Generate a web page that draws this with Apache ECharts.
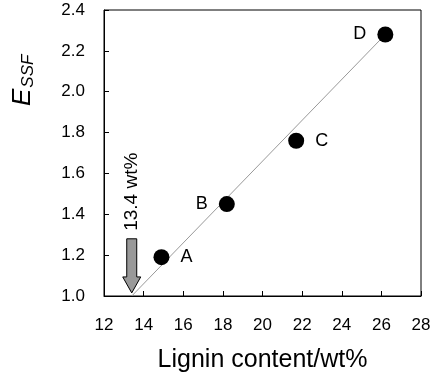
<!DOCTYPE html>
<html>
<head>
<meta charset="utf-8">
<script src="https://cdn.jsdelivr.net/npm/echarts@6/dist/echarts.min.js"></script>
<style>
html,body{margin:0;padding:0;background:#fff;}
#chart{width:431px;height:374px;}
</style>
</head>
<body>
<div id="chart"></div>
<script>
// Samples: lignin content (wt%) vs E_SSF
const sampleNames = ['A', 'B', 'C', 'D'];
const ligninContent = [14.9, 18.2, 21.7, 26.2];
const essf = [1.19, 1.45, 1.76, 2.28];
const labelSide = ['right', 'left', 'right', 'left'];

// Linear fit endpoints (x-intercept at 13.4 wt%)
const fitX = [13.4, 26.2];
const fitY = [1.0, 2.28];

// Arrow marking the intercept
const arrowX = 13.4;
const arrowFrom = 1.28;
const arrowTo = 1.015;
const arrowText = '13.4 wt%';

const xTicks = [12, 14, 16, 18, 20, 22, 24, 26, 28];
const yTicks = [1.0, 1.2, 1.4, 1.6, 1.8, 2.0, 2.2, 2.4];

const FONT = 'Liberation Sans, Arial, sans-serif';
const chart = echarts.init(document.getElementById('chart'));

const axisCommon = {
  axisLine: { show: true, lineStyle: { color: '#000', width: 1 } },
  axisTick: { show: true, inside: true, length: 5, lineStyle: { color: '#000' } },
  splitLine: { show: false },
  axisLabel: { color: '#000', fontSize: 17, fontFamily: FONT }
};

chart.setOption({
  animation: false,
  backgroundColor: '#fff',
  grid: {
    left: 104, right: 10, top: 10, bottom: 78,
    containLabel: false, outerBoundsMode: 'none',
    show: true, borderColor: '#000', borderWidth: 1, backgroundColor: 'transparent'
  },
  xAxis: Object.assign({}, axisCommon, {
    type: 'value', min: xTicks[0], max: xTicks[xTicks.length - 1], interval: 2,
    name: 'Lignin content/wt%', nameLocation: 'middle', nameGap: 52,
    nameTextStyle: { color: '#000', fontSize: 25, fontFamily: FONT },
    axisLabel: Object.assign({}, axisCommon.axisLabel, { margin: 21 })
  }),
  yAxis: Object.assign({}, axisCommon, {
    type: 'value', min: yTicks[0], max: yTicks[yTicks.length - 1], interval: 0.2,
    axisLabel: Object.assign({}, axisCommon.axisLabel, { margin: 19, formatter: v => v.toFixed(1) })
  }),
  graphic: [{
    type: 'text',
    x: 8, y: 106,
    rotation: Math.PI / 2,
    style: {
      text: '{e|E}{s|SSF}',
      rich: {
        e: { fontSize: 26, fontStyle: 'italic', fontFamily: FONT, fill: '#000' },
        s: { fontSize: 17, fontStyle: 'italic', fontFamily: FONT, fill: '#000', padding: [12, 0, 0, 1] }
      }
    }
  }],
  series: [
    {
      type: 'line',
      data: fitX.map((x, i) => [x, fitY[i]]),
      symbol: 'none',
      lineStyle: { color: '#999', width: 1 },
      z: 2
    },
    {
      type: 'scatter',
      data: ligninContent.map((x, i) => ({
        value: [x, essf[i]],
        name: sampleNames[i],
        label: { position: labelSide[i] }
      })),
      symbolSize: 16,
      itemStyle: { color: '#000', opacity: 1 },
      label: {
        show: true, formatter: p => p.name, distance: 11,
        color: '#000', fontSize: 18, fontFamily: FONT
      },
      z: 3
    },
    {
      type: 'custom',
      data: [[arrowX, arrowFrom, arrowTo]],
      renderItem: function (params, api) {
        const top = api.coord([api.value(0), api.value(1)]);
        const tip = api.coord([api.value(0), api.value(2)]);
        const cx = top[0];
        const shaftW = 5, headW = 9, headH = 16;
        const headTop = tip[1] - headH;
        return {
          type: 'group',
          children: [
            {
              type: 'polygon',
              shape: {
                points: [
                  [cx - shaftW, top[1]], [cx + shaftW, top[1]],
                  [cx + shaftW, headTop], [cx + headW, headTop],
                  [cx, tip[1]], [cx - headW, headTop],
                  [cx - shaftW, headTop]
                ]
              },
              style: { fill: '#999', stroke: '#000', lineWidth: 1 }
            },
            {
              type: 'text',
              x: cx, y: top[1] - 8,
              rotation: Math.PI / 2,
              style: {
                text: arrowText, fontSize: 19, fontFamily: FONT, fill: '#000',
                align: 'left', verticalAlign: 'middle'
              }
            }
          ]
        };
      },
      z: 4
    }
  ]
});
</script>
</body>
</html>
